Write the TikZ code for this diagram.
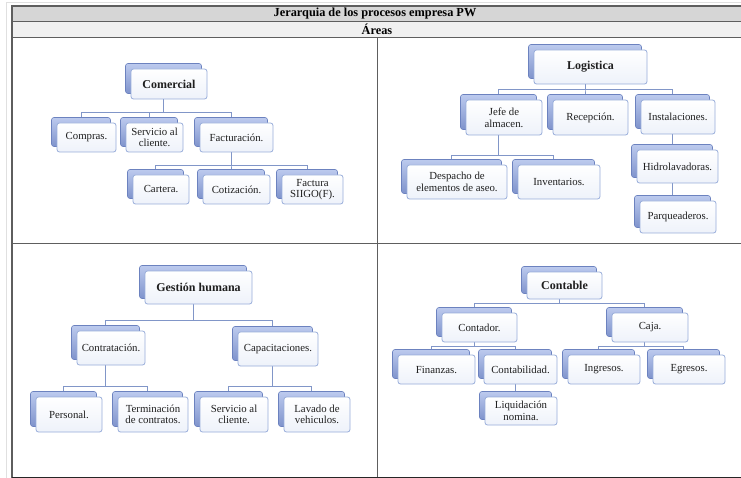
\documentclass[tikz,border=0pt]{standalone}
\usepackage{fontspec}
\setmainfont{Liberation Serif}
\usetikzlibrary{calc}
\pgfdeclarelayer{bg}
\pgfsetlayers{bg,main}
\definecolor{shTop}{HTML}{BCCAEE}
\definecolor{shBot}{HTML}{7F93CC}
\definecolor{shDraw}{HTML}{6C82BF}
\definecolor{frDraw}{HTML}{98ADDA}
\definecolor{frBot}{HTML}{EEF2FA}
\definecolor{connC}{HTML}{8196C8}
\definecolor{gridC}{HTML}{5E5E5E}
\tikzset{
  shbox/.style={rectangle, rounded corners=2.5pt, top color=shTop, bottom color=shBot, draw=shDraw, line width=0.6pt, inner sep=0pt, outer sep=0pt},
  frbox/.style={rectangle, rounded corners=2.5pt, top color=white, bottom color=frBot, draw=frDraw, line width=0.8pt, inner sep=0pt, outer sep=0pt, align=center, text=black!88, font=\fontsize{10.8}{11.6}\selectfont},
  headbox/.style={font=\bfseries\fontsize{12}{14}\selectfont},
  conn/.style={draw=connC, line width=0.9pt},
  gridline/.style={draw=gridC, line width=1.3pt}
}
\newcommand{\orgbox}[7][]{%
  \node[shbox, minimum width={(#5-#3)*1pt}, minimum height={(#6-#4)*1pt}] (#2) at ({(#3+#5)/2-5.5},{(#4+#6)/2-5.5}) {};
  \node[frbox, #1, minimum width={(#5-#3)*1pt}, minimum height={(#6-#4)*1pt}] (#2f) at ({(#3+#5)/2},{(#4+#6)/2}) {#7};
}
\newcommand{\link}[3]{\draw[conn] (#1.south) -- (#1.south |- #3) -| (#2.north);}
\newcommand{\chain}[2]{\draw[conn] (#1.south) -- (#1.south |- #2.north);}
\begin{document}
\begin{tikzpicture}[x=1pt, y=-1pt]
\useasboundingbox (0,0) rectangle (741,478);
\begin{pgfonlayer}{bg}
  \fill[white] (0,0) rectangle (741,478);
  \fill[black!16] (12,6) rectangle (741,21);
  \fill[black!6] (12,21) rectangle (741,37);
\end{pgfonlayer}
% faint page frame
\draw[black!12, line width=0.8pt] (6.5,478) -- (6.5,2) -- (741,2);
% table
\draw[gridline] (12,478) -- (12,6) -- (741,6);
\draw[gridline] (12,21.3) -- (741,21.3);
\draw[gridline] (12,37.3) -- (741,37.3);
\draw[gridline] (377.3,37.3) -- (377.3,478);
\draw[gridline] (12,243.3) -- (741,243.3);
\draw[draw=black!85, line width=1.4pt] (12,477.3) -- (741,477.3);
\node[font=\bfseries\fontsize{12.3}{14}\selectfont, inner sep=0pt] (title) at (375,13.8) {Jerarquia de los procesos empresa PW};
\node[font=\bfseries\fontsize{12.3}{14}\selectfont, inner sep=0pt] (areas) at (377,29.3) {Áreas};

% ---------- Comercial ----------
\orgbox[headbox]{com}{131}{69}{207}{99}{Comercial}
\orgbox{compras}{57}{123}{116}{152}{Compras.}
\orgbox{serv}{126}{123}{183}{152}{Servicio al\\cliente.}
\orgbox{fact}{200}{123}{273}{152}{Facturación.}
\orgbox{cart}{133}{175}{189}{204}{Cartera.}
\orgbox{coti}{203}{175}{270}{204}{Cotización.}
\orgbox{siigo}{282}{175}{343}{204}{Factura\\SIIGO(F).}

% ---------- Logistica ----------
\orgbox[headbox]{log}{534}{50}{647}{84}{Logistica}
\orgbox{jefe}{466}{100}{542}{135}{Jefe de\\almacen.}
\orgbox{recep}{553}{100}{628}{135}{Recepción.}
\orgbox{inst}{641}{100}{715}{134}{Instalaciones.}
\orgbox{desp}{407}{165}{507}{199}{Despacho de\\elementos de aseo.}
\orgbox{inven}{518}{165}{600}{199}{Inventarios.}
\orgbox{hidro}{637}{150}{718}{183}{Hidrolavadoras.}
\orgbox{parq}{640}{201}{716}{233}{Parqueaderos.}

% ---------- Gestion humana ----------
\orgbox[headbox]{gh}{145}{271}{252}{304}{Gestión humana}
\orgbox{contr}{77}{331}{145}{365}{Contratación.}
\orgbox{capa}{238}{332}{318}{366}{Capacitaciones.}
\orgbox{pers}{36}{397}{102}{432}{Personal.}
\orgbox{term}{118}{397}{188}{432}{Terminación\\de contratos.}
\orgbox{servb}{200}{397}{268}{432}{Servicio al\\cliente.}
\orgbox{lava}{284}{397}{350}{432}{Lavado de\\vehiculos.}

% ---------- Contable ----------
\orgbox[headbox]{cont}{527}{272}{602}{299}{Contable}
\orgbox{contad}{442}{313}{517}{342}{Contador.}
\orgbox{caja}{612}{313}{688}{342}{Caja.}
\orgbox{fin}{398}{355}{475}{384}{Finanzas.}
\orgbox{contab}{484}{355}{557}{384}{Contabilidad.}
\orgbox{liq}{485}{397}{557}{425}{Liquidación\\nomina.}
\orgbox{ing}{568}{355}{640}{384}{Ingresos.}
\orgbox{egr}{653}{355}{725}{384}{Egresos.}

\begin{pgfonlayer}{bg}
  \coordinate (bA) at (0,112.7);
  \coordinate (bB) at (0,165);
  \coordinate (bC) at (0,89.3);
  \coordinate (bD) at (0,155);
  \coordinate (bE) at (0,320);
  \coordinate (bF) at (0,386.7);
  \coordinate (bG) at (0,303.3);
  \coordinate (bH) at (0,346);
  \link{com}{compras}{bA}
  \link{com}{serv}{bA}
  \link{com}{fact}{bA}
  \link{fact}{cart}{bB}
  \link{fact}{coti}{bB}
  \link{fact}{siigo}{bB}
  \link{log}{jefe}{bC}
  \link{log}{recep}{bC}
  \link{log}{inst}{bC}
  \link{jefe}{desp}{bD}
  \link{jefe}{inven}{bD}
  \chain{inst}{hidro}
  \chain{hidro}{parq}
  \link{gh}{contr}{bE}
  \link{gh}{capa}{bE}
  \link{contr}{pers}{bF}
  \link{contr}{term}{bF}
  \link{capa}{servb}{bF}
  \link{capa}{lava}{bF}
  \link{cont}{contad}{bG}
  \link{cont}{caja}{bG}
  \link{contad}{fin}{bH}
  \link{contad}{contab}{bH}
  \link{caja}{ing}{bH}
  \link{caja}{egr}{bH}
  \chain{contab}{liq}
\end{pgfonlayer}
\end{tikzpicture}
\end{document}
